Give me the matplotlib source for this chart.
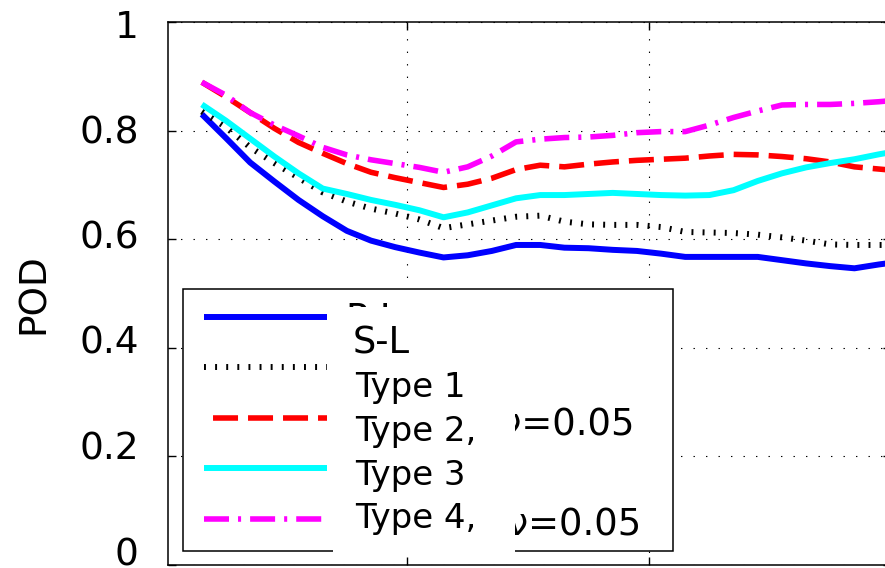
import matplotlib
matplotlib.use("Agg")
import matplotlib.pyplot as plt
from matplotlib.transforms import Affine2D, ScaledTranslation
from matplotlib.lines import Line2D
from matplotlib.patches import Rectangle

plt.rcParams['font.family'] = ['DejaVu Sans']
plt.rcParams['lines.scale_dashes'] = False

# ---------------- data ----------------
x = [1.5, 2.5, 3.5, 4.5, 5.5, 6.5, 7.5, 8.5, 9.5, 10.5, 11.5, 12.5, 13.5, 14.5, 15.5,
     16.5, 17.5, 18.5, 19.5, 20.5, 21.5, 22.5, 23.5, 24.5, 25.5, 26.5, 27.5, 28.5, 29.5, 30.0]

sl = [0.830, 0.786, 0.741, 0.706, 0.672, 0.642, 0.615, 0.597, 0.585, 0.575, 0.566, 0.570, 0.578, 0.589, 0.589,
      0.584, 0.583, 0.580, 0.578, 0.573, 0.567, 0.567, 0.567, 0.567, 0.561, 0.555, 0.550, 0.546, 0.553, 0.556]
type1 = [0.835, 0.806, 0.769, 0.740, 0.713, 0.686, 0.669, 0.656, 0.647, 0.636, 0.620, 0.627, 0.634, 0.641, 0.643,
         0.632, 0.627, 0.626, 0.626, 0.622, 0.613, 0.612, 0.611, 0.608, 0.603, 0.597, 0.590, 0.589, 0.589, 0.589]
type2 = [0.889, 0.862, 0.833, 0.804, 0.778, 0.758, 0.739, 0.723, 0.713, 0.704, 0.695, 0.701, 0.712, 0.728, 0.736,
         0.733, 0.738, 0.742, 0.745, 0.747, 0.749, 0.753, 0.756, 0.755, 0.752, 0.748, 0.742, 0.733, 0.729, 0.727]
type3 = [0.848, 0.818, 0.785, 0.752, 0.721, 0.693, 0.683, 0.672, 0.663, 0.653, 0.640, 0.649, 0.662, 0.675, 0.681,
         0.681, 0.683, 0.685, 0.683, 0.681, 0.680, 0.681, 0.690, 0.707, 0.721, 0.732, 0.740, 0.747, 0.756, 0.760]
type4 = [0.889, 0.865, 0.833, 0.810, 0.790, 0.769, 0.755, 0.746, 0.739, 0.732, 0.723, 0.733, 0.753, 0.779, 0.784,
         0.787, 0.788, 0.791, 0.796, 0.798, 0.798, 0.810, 0.824, 0.836, 0.847, 0.848, 0.848, 0.850, 0.853, 0.855]

yticks = [0, 0.2, 0.4, 0.6, 0.8, 1.0]
ytick_labels = ["0", "0.2", "0.4", "0.6", "0.8", "1"]
xticks = [10, 20, 30]
ylabel = "POD"

labels_new = ["S-L", "Type 1", "Type 2,", "Type 3", "Type 4,"]
labels_old = ["P-L", "Type 1", "Type 2, \u03bd=0.05", "Type 3", "Type 4, \u03bd=0.05"]

# ---------------- styles ----------------
styles = [
    dict(color=(0, 0, 1), lw=4.3, ls='-'),
    dict(color='black', lw=4.3, ls=(0, (1.4, 6.6))),
    dict(color=(1, 0, 0), lw=4.0, ls=(0, (18, 7.2))),
    dict(color=(0, 1, 1), lw=4.3, ls='-'),
    dict(color=(1, 0, 1), lw=4.0, ls=(0, (18, 6.5, 2.2, 6.5))),
]
legend_ls = ['-', (0, (1.4, 6.6)), (18.7, (18, 7.2)), '-', (0, (18, 6.5, 2.2, 6.5))]

W, H = 885, 568
fig = plt.figure(figsize=(W / 100, H / 100), dpi=100)
ax = fig.add_axes([168 / W, (H - 564.5) / H, 722.7 / W, 542.5 / H])

series = [sl, type1, type2, type3, type4]
for ys, st in zip(series, styles):
    ax.plot(x, ys, color=st['color'], lw=st['lw'], linestyle=st['ls'],
            solid_capstyle='butt', dash_capstyle='butt', zorder=2)

ax.set_xlim(0.1, 30)
ax.set_ylim(0, 1)
ax.set_xticks(xticks)
ax.set_yticks(yticks, labels=ytick_labels)
ax.grid(True, color='black', linestyle=(0, (1, 8)), lw=0.8)
ax.tick_params(direction='in', length=5.5, width=1, top=True, right=True,
               labelsize=27, pad=21, colors='black')
ax.tick_params(axis='x', labelbottom=False)
for sp in ax.spines.values():
    sp.set_linewidth(1.1)
    sp.set_color('black')

# slight vertical offsets of the tick labels as in the reference
for tick, v in zip(ax.yaxis.get_major_ticks(), yticks):
    dy = (13.5 - 15 * v) / 100.0
    tick.label1.set_transform(tick.label1.get_transform() +
                              ScaledTranslation(0, dy, fig.dpi_scale_trans))

ax.set_ylabel(ylabel, fontsize=27)
ax.yaxis.set_label_coords(-0.161, 0.5)

# ---------------- legend (pixel coordinates, y down) ----------------
T = Affine2D().scale(1 / W, -1 / H).translate(0, 1) + fig.transFigure

fig.add_artist(Rectangle((183, 289), 673 - 183, 551 - 289, transform=T,
                         facecolor='white', edgecolor='black', lw=1.1, zorder=5))
key_y = [317, 367, 418, 468, 519]
for yy, st, ls in zip(key_y, styles, legend_ls):
    fig.add_artist(Line2D([204, 327], [yy, yy], transform=T, color=st['color'],
                          lw=st['lw'], linestyle=ls, solid_capstyle='butt',
                          dash_capstyle='butt', zorder=6))

old_pos = [(345, 330), (351, 382), (357.5, 435), (351, 485), (364, 535)]
for (tx, ty), s in zip(old_pos, labels_old):
    fig.text(tx, ty, s, transform=T, fontsize=26.6, ha='left', va='baseline',
             zorder=6, color='black')

# white patch pasted over the legend text
fig.add_artist(Rectangle((333, 307), 515 - 333, 553.5 - 307, transform=T,
                         facecolor='white', edgecolor='none', zorder=7))

new_pos = [(353, 353), (355, 397), (355, 441), (355, 485), (355, 528)]
new_sizes = [26.6, 24.5, 24.5, 24.5, 24.5]
for (tx, ty), s, fs in zip(new_pos, labels_new, new_sizes):
    fig.text(tx, ty, s, transform=T, fontsize=fs, ha='left', va='baseline',
             zorder=8, color='black')

fig.savefig("out.png", dpi=100)
